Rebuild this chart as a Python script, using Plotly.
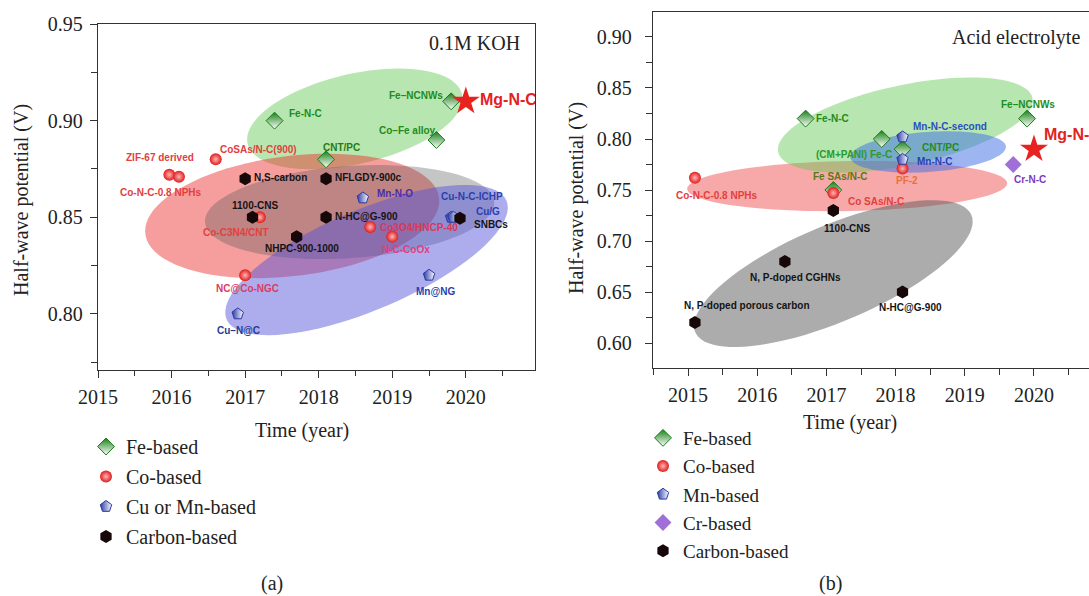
import numpy as np
import plotly.graph_objects as go

# ---------------- data: panel (a), 0.1M KOH ----------------
fe_a_names = ["Fe-N-C", "Fe–NCNWs", "Co–Fe alloy", "CNT/PC"]
fe_a_year = [2017.4, 2019.8, 2019.6, 2018.1]
fe_a_e12 = [0.900, 0.910, 0.890, 0.880]

co_a_names = ["CoSAs/N-C(900)", "ZIF-67 derived", "Co-N-C-0.8 NPHs", "Co-C3N4/CNT",
              "Co3O4/HNCP-40", "N-C-CoOx", "NC@Co-NGC"]
co_a_year = [2016.6, 2015.97, 2016.1, 2017.2, 2018.7, 2019.0, 2017.0]
co_a_e12 = [0.880, 0.872, 0.871, 0.850, 0.845, 0.840, 0.820]

mn_a_names = ["Mn-N-O", "Cu-N-C-ICHP", "Cu/G", "Mn@NG", "Cu–N@C"]
mn_a_year = [2018.6, 2019.8, 2019.83, 2019.5, 2016.9]
mn_a_e12 = [0.860, 0.850, 0.850, 0.820, 0.800]

c_a_names = ["N,S-carbon", "NFLGDY-900c", "1100-CNS", "N-HC@G-900", "SNBCs", "NHPC-900-1000"]
c_a_year = [2017.0, 2018.1, 2017.1, 2018.1, 2019.92, 2017.7]
c_a_e12 = [0.870, 0.870, 0.850, 0.850, 0.8495, 0.840]

mg_a_year = [2020.0]
mg_a_e12 = [0.910]

# ---------------- data: panel (b), acid electrolyte ----------------
fe_b_names = ["Fe-N-C", "Fe–NCNWs", "(CM+PANI) Fe-C", "CNT/PC", "Fe SAs/N-C"]
fe_b_year = [2016.7, 2019.9, 2017.8, 2018.1, 2017.1]
fe_b_e12 = [0.820, 0.820, 0.800, 0.790, 0.750]

co_b_names = ["Co-N-C-0.8 NPHs", "PF-2", "Co SAs/N-C"]
co_b_year = [2015.1, 2018.1, 2017.1]
co_b_e12 = [0.762, 0.771, 0.747]

mn_b_names = ["Mn-N-C-second", "Mn-N-C"]
mn_b_year = [2018.1, 2018.1]
mn_b_e12 = [0.802, 0.780]

cr_b_names = ["Cr-N-C"]
cr_b_year = [2019.7]
cr_b_e12 = [0.775]

c_b_names = ["1100-CNS", "N, P-doped CGHNs", "N-HC@G-900", "N, P-doped porous carbon"]
c_b_year = [2017.1, 2016.4, 2018.1, 2015.1]
c_b_e12 = [0.730, 0.680, 0.650, 0.620]

mg_b_year = [2020.0]
mg_b_e12 = [0.790]

# ---------------- page geometry (pixels) ----------------
W, H = 1089, 596
A_BOX = (98, 535, 24, 370)      # left, right, top, bottom
B_BOX = (653, 1089, 12, 368)
XA_RANGE = [2015.0, 2020.94]
YA_RANGE = [0.771, 0.95]
XB_RANGE = [2014.494, 2020.795]
YB_RANGE = [0.5755, 0.9245]


def px(x):
    return x / W


def py(y):
    return 1 - y / H


def scales(box, xr, yr):
    return (box[1] - box[0]) / (xr[1] - xr[0]), (box[3] - box[2]) / (yr[1] - yr[0])


SA = scales(A_BOX, XA_RANGE, YA_RANGE)
SB = scales(B_BOX, XB_RANGE, YB_RANGE)


def ellipse_path(xc, yc, a, b, ang, sc):
    """Ellipse centred in data units, semi-axes a/b in screen pixels, tilted ang degrees."""
    t = np.linspace(0, 2 * np.pi, 90)
    th = np.radians(ang)
    dx = a * np.cos(t) * np.cos(th) - b * np.sin(t) * np.sin(th)
    dy = a * np.cos(t) * np.sin(th) + b * np.sin(t) * np.cos(th)
    xs = xc + dx / sc[0]
    ys = yc + dy / sc[1]
    return "M " + " L ".join(f"{x:.4f},{y:.5f}" for x, y in zip(xs, ys)) + " Z"


# group ellipses: (centre year, centre V, a px, b px, tilt deg, fill)
ELL_A = [
    (2018.49, 0.9009, 110, 45, 13, "rgba(97,199,79,0.45)"),
    (2017.64, 0.8507, 148, 60, 7, "rgba(236,40,40,0.45)"),
    (2018.42, 0.8527, 145, 46, 4, "rgba(80,80,80,0.33)"),
    (2018.65, 0.8279, 152, 50, 23, "rgba(83,83,217,0.48)"),
]
ELL_B = [
    (2017.30, 0.7539, 160, 25, 1, "rgba(236,40,40,0.40)"),
    (2017.10, 0.6680, 150, 48, 23, "rgba(90,90,90,0.50)"),
    (2018.14, 0.8137, 130, 40, 12, "rgba(97,199,79,0.45)"),
    (2018.47, 0.7873, 78, 20, 4, "rgba(60,110,230,0.50)"),
]

# label placement: name -> (anchor, dx px, dy px, colour)
GREEN, RED, BLUE, BLACK = "#1e8c1e", "#e2403e", "#2a3fae", "#141414"
LAB_A = {
    "Fe-N-C": ("left", 12, -7, GREEN),
    "Fe–NCNWs": ("right", -6, -6, GREEN),
    "Co–Fe alloy": ("center", -29, -9, GREEN),
    "CNT/PC": ("center", 15, -12, "#2a7a14"),
    "CoSAs/N-C(900)": ("left", 2, -10, RED),
    "ZIF-67 derived": ("center", -9, -17, RED),
    "Co-N-C-0.8 NPHs": ("center", -18, 16, RED),
    "Co-C3N4/CNT": ("center", -24, 15, RED),
    "Co3O4/HNCP-40": ("left", 8, 1, "#d8385a"),
    "N-C-CoOx": ("center", 14, 13, "#e0407a"),
    "NC@Co-NGC": ("center", 2, 13, "#dc3a60"),
    "Mn-N-O": ("left", 12, -4, "#4a2cb0"),
    "Cu-N-C-ICHP": ("center", 21, -21, BLUE),
    "Cu/G": ("left", 21, -6, BLUE),
    "Mn@NG": ("center", 6, 16, BLUE),
    "Cu–N@C": ("center", 1, 17, "#2a3a90"),
    "N,S-carbon": ("left", 7, -1, BLACK),
    "NFLGDY-900c": ("left", 7, -1, BLACK),
    "1100-CNS": ("center", 3, -12, BLACK),
    "N-HC@G-900": ("left", 7, -1, BLACK),
    "SNBCs": ("left", 12, 6, BLACK),
    "NHPC-900-1000": ("center", 5, 12, BLACK),
}
LAB_B = {
    "Fe-N-C": ("left", 8, 0, GREEN),
    "Fe–NCNWs": ("center", 1, -14, GREEN),
    "(CM+PANI) Fe-C": ("center", -28, 16, "#2a9a2a"),
    "CNT/PC": ("left", 17, -2, GREEN),
    "Fe SAs/N-C": ("center", 7, -13, "#5a7a10"),
    "Co-N-C-0.8 NPHs": ("center", 22, 18, RED),
    "PF-2": ("center", 4, 12, "#e8703a"),
    "Co SAs/N-C": ("left", 13, 8, RED),
    "Mn-N-C-second": ("left", 8, -10, "#2a50c0"),
    "Mn-N-C": ("left", 12, 2, BLUE),
    "Cr-N-C": ("center", 17, 15, "#7a3ac0"),
    "1100-CNS": ("center", 14, 18, BLACK),
    "N, P-doped CGHNs": ("center", 11, 16, BLACK),
    "N-HC@G-900": ("center", 8, 15, BLACK),
    "N, P-doped porous carbon": ("center", 52, -17, BLACK),
}

# marker styles per material family
FE = dict(symbol="diamond", size=13, color="#168016",
          gradient=dict(type="vertical", color="#ffffff"), line=dict(color="#1a7a1a", width=1))
CO = dict(symbol="circle", size=12, color="#e01c1c",
          gradient=dict(type="radial", color="#ffb4b4"), line=dict(width=0))
MN = dict(symbol="pentagon", size=12, color="#2a3aa8",
          gradient=dict(type="horizontal", color="#ffffff"), line=dict(color="#2a3aa0", width=1))
CR = dict(symbol="diamond", size=13, color="#a070d8", line=dict(width=0))
CB = dict(symbol="hexagon", size=13, color="#160808", line=dict(width=0))
STAR = dict(symbol="star", size=21, color="#e8231f", line=dict(width=0))

fig = go.Figure()


def add_series(name, xs, ys, style, xa, ya, legend):
    fig.add_trace(go.Scatter(x=xs, y=ys, mode="markers", name=name, marker=style,
                             xaxis=xa, yaxis=ya, legend=legend, legendgroup=legend + name,
                             cliponaxis=False, hoverinfo="skip"))


add_series("Fe-based", fe_a_year, fe_a_e12, FE, "x", "y", "legend")
add_series("Co-based", co_a_year, co_a_e12, CO, "x", "y", "legend")
add_series("Cu or Mn-based", mn_a_year, mn_a_e12, MN, "x", "y", "legend")
add_series("Carbon-based", c_a_year, c_a_e12, CB, "x", "y", "legend")

add_series("Fe-based", fe_b_year, fe_b_e12, FE, "x2", "y2", "legend2")
add_series("Co-based", co_b_year, co_b_e12, CO, "x2", "y2", "legend2")
add_series("Mn-based", mn_b_year, mn_b_e12, MN, "x2", "y2", "legend2")
add_series("Cr-based", cr_b_year, cr_b_e12, CR, "x2", "y2", "legend2")
add_series("Carbon-based", c_b_year, c_b_e12, CB, "x2", "y2", "legend2")

# Mg-N-C stars; the (a) label is clipped by the frame
mg_font = dict(family="Liberation Sans, Arial, sans-serif", size=16, color="#e2231f", weight=700)
fig.add_trace(go.Scatter(x=mg_a_year, y=mg_a_e12, mode="markers+text", text=["Mg-N-C"],
                         textposition="middle right", textfont=mg_font, marker=STAR,
                         xaxis="x", yaxis="y", showlegend=False, cliponaxis=True, hoverinfo="skip"))
fig.add_trace(go.Scatter(x=mg_b_year, y=mg_b_e12, mode="markers", marker=STAR,
                         xaxis="x2", yaxis="y2", showlegend=False, cliponaxis=False, hoverinfo="skip"))

shapes = []
for (xc, yc, a, b, ang, col) in ELL_A:
    shapes.append(dict(type="path", xref="x", yref="y", layer="below", line=dict(width=0),
                       fillcolor=col, path=ellipse_path(xc, yc, a, b, ang, SA)))
for (xc, yc, a, b, ang, col) in ELL_B:
    shapes.append(dict(type="path", xref="x2", yref="y2", layer="below", line=dict(width=0),
                       fillcolor=col, path=ellipse_path(xc, yc, a, b, ang, SB)))

annotations = []
pt_font = "Liberation Sans, Arial, sans-serif"


def add_labels(names, xs, ys, table, xr, yr):
    for n, x, y in zip(names, xs, ys):
        anc, dx, dy, col = table[n]
        annotations.append(dict(x=x, y=y, xref=xr, yref=yr, text=n, showarrow=False,
                                xanchor=anc, yanchor="middle", xshift=dx, yshift=-dy,
                                font=dict(family=pt_font, size=10, color=col, weight=700)))


add_labels(fe_a_names, fe_a_year, fe_a_e12, LAB_A, "x", "y")
add_labels(co_a_names, co_a_year, co_a_e12, LAB_A, "x", "y")
add_labels(mn_a_names, mn_a_year, mn_a_e12, LAB_A, "x", "y")
add_labels(c_a_names, c_a_year, c_a_e12, LAB_A, "x", "y")
add_labels(fe_b_names, fe_b_year, fe_b_e12, LAB_B, "x2", "y2")
add_labels(co_b_names, co_b_year, co_b_e12, LAB_B, "x2", "y2")
add_labels(mn_b_names, mn_b_year, mn_b_e12, LAB_B, "x2", "y2")
add_labels(cr_b_names, cr_b_year, cr_b_e12, LAB_B, "x2", "y2")
add_labels(c_b_names, c_b_year, c_b_e12, LAB_B, "x2", "y2")

# Mg-N-C label in (b), up and to the right of its star (runs off the page edge)
annotations.append(dict(x=mg_b_year[0], y=mg_b_e12[0], xref="x2", yref="y2", text="Mg-N-C",
                        showarrow=False, xanchor="left", yanchor="middle", xshift=8, yshift=15,
                        font=mg_font))

serif = "Liberation Serif, Times New Roman, serif"


def page_text(text, x, y, size=20, xanchor="center", angle=0):
    annotations.append(dict(text=text, x=px(x), y=py(y), xref="paper", yref="paper",
                            showarrow=False, xanchor=xanchor, yanchor="middle",
                            textangle=angle, font=dict(family=serif, size=size, color="#222")))


page_text("0.1M KOH", 522, 43, xanchor="right")
page_text("Acid electrolyte", 1082, 38, xanchor="right")
page_text("Half-wave potential (V)", 22, 200, angle=-90)
page_text("Half-wave potential (V)", 576, 198, angle=-90)
page_text("Time (year)", 302, 430)
page_text("Time (year)", 850, 423)
page_text("(a)", 272, 583)
page_text("(b)", 830, 583)

axis_common = dict(showline=True, linecolor="#333", linewidth=1.3, ticks="outside",
                   tickcolor="#333", tickwidth=1.2, ticklen=7, showgrid=False, zeroline=False,
                   tickfont=dict(family=serif, size=20, color="#222"), fixedrange=True,
                   automargin=False)

fig.update_layout(
    width=W, height=H, autosize=False,
    margin=dict(l=0, r=0, t=0, b=0, pad=0, autoexpand=False),
    paper_bgcolor="white", plot_bgcolor="rgba(0,0,0,0)",
    xaxis=dict(domain=[px(A_BOX[0]), px(A_BOX[1])], range=XA_RANGE, dtick=1, tick0=2015,
               mirror=True, anchor="y", ticklabelstandoff=2,
               minor=dict(ticks="outside", dtick=0.5, ticklen=5, tickcolor="#333"), **axis_common),
    yaxis=dict(domain=[py(A_BOX[3]), py(A_BOX[2])], range=YA_RANGE, dtick=0.05, tick0=0.8,
               tickformat=".2f", mirror=True, anchor="x", ticklabelstandoff=3,
               minor=dict(ticks="outside", dtick=0.025, ticklen=6, tickcolor="#333"), **axis_common),
    xaxis2=dict(domain=[px(B_BOX[0]), px(B_BOX[1])], range=XB_RANGE, dtick=1, tick0=2015,
                mirror=True, anchor="y2", ticklabelstandoff=2,
                minor=dict(ticks="outside", dtick=0.5, ticklen=6, tickcolor="#333"), **axis_common),
    yaxis2=dict(domain=[py(B_BOX[3]), py(B_BOX[2])], range=YB_RANGE, dtick=0.05, tick0=0.6,
                tickformat=".2f", mirror=False, anchor="x2", ticklabelstandoff=9,
                minor=dict(ticks="outside", dtick=0.025, ticklen=6, tickcolor="#333"), **axis_common),
    legend=dict(x=px(86), y=py(427), xanchor="left", yanchor="top", bgcolor="rgba(0,0,0,0)",
                font=dict(family=serif, size=20, color="#222"), tracegroupgap=1, itemclick=False),
    legend2=dict(x=px(643), y=py(419), xanchor="left", yanchor="top", bgcolor="rgba(0,0,0,0)",
                 font=dict(family=serif, size=19, color="#222"), tracegroupgap=0.5, itemclick=False),
    shapes=shapes,
    annotations=annotations,
)

fig.write_html("out.html")
